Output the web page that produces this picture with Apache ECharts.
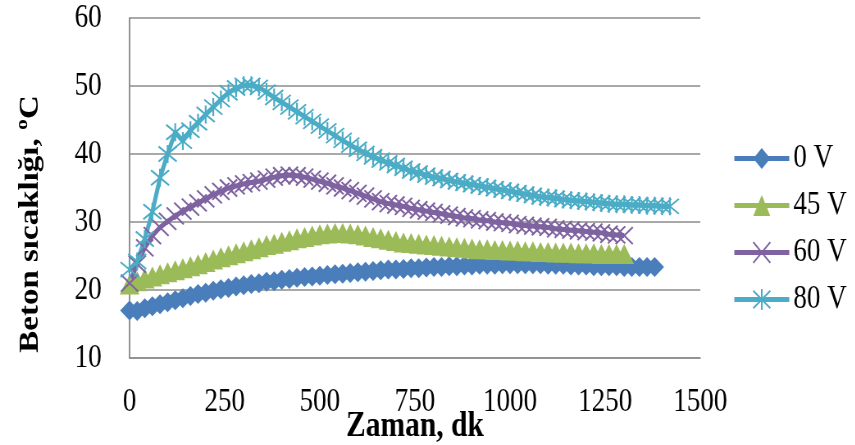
<!DOCTYPE html>
<html>
<head>
<meta charset="utf-8">
<script src="https://cdn.jsdelivr.net/npm/echarts@6/dist/echarts.min.js"></script>
<style>
  html, body { margin: 0; padding: 0; background: #ffffff; overflow: hidden; }
  #wrap { width: 855px; height: 445px; overflow: hidden; }
  /* The chart is laid out wider and then condensed horizontally */
  #chart { width: 1043px; height: 445px; transform: scaleX(0.82); transform-origin: 0 0; }
</style>
</head>
<body>
<div id="wrap"><div id="chart"></div></div>
<script>
// Measurement times (minutes)
const times = [
  0, 20, 40, 60, 80, 100, 120, 140, 160, 180,
  200, 220, 240, 260, 280, 300, 320, 340, 360, 380,
  400, 420, 440, 460, 480, 500, 520, 540, 560, 580,
  600, 620, 640, 660, 680, 700, 720, 740, 760, 780,
  800, 820, 840, 860, 880, 900, 920, 940, 960, 980,
  1000, 1020, 1040, 1060, 1080, 1100, 1120, 1140, 1160, 1180,
  1200, 1220, 1240, 1260, 1280, 1300, 1320, 1340, 1360, 1380,
  1400, 1420
];

const seriesNames = ['0 V', '45 V', '60 V', '80 V'];

// Concrete temperature, °C
const temp0V = [
  17.0, 16.9, 17.3, 17.6, 17.9, 18.2, 18.5, 18.8, 19.1, 19.4,
  19.6, 19.9, 20.1, 20.3, 20.5, 20.7, 20.9, 21.0, 21.2, 21.3,
  21.5, 21.6, 21.8, 21.9, 22.0, 22.1, 22.2, 22.3, 22.4, 22.5,
  22.6, 22.7, 22.8, 22.9, 23.0, 23.0, 23.1, 23.2, 23.2, 23.3,
  23.4, 23.4, 23.5, 23.5, 23.6, 23.6, 23.7, 23.7, 23.7, 23.8,
  23.8, 23.8, 23.8, 23.8, 23.8, 23.7, 23.7, 23.7, 23.6, 23.6,
  23.6, 23.5, 23.5, 23.5, 23.5, 23.4, 23.4, 23.4, 23.4, 23.4
];
const temp45V = [
  20.8, 21.3, 21.7, 22.0, 22.3, 22.6, 22.9, 23.2, 23.5, 23.8,
  24.1, 24.5, 24.8, 25.1, 25.4, 25.7, 26.0, 26.3, 26.6, 26.8,
  27.1, 27.3, 27.6, 27.8, 28.0, 28.2, 28.3, 28.4, 28.4, 28.3,
  28.2, 28.0, 27.8, 27.6, 27.4, 27.2, 27.0, 26.9, 26.8, 26.7,
  26.6, 26.5, 26.4, 26.3, 26.2, 26.1, 26.0, 26.0, 25.9, 25.9,
  25.8, 25.8, 25.7, 25.7, 25.6, 25.6, 25.5, 25.5, 25.5, 25.4,
  25.4, 25.4, 25.3, 25.3, 25.3, 25.3
];
const temp60V = [
  21.0, 23.8, 26.2, 28.0, 29.2, 30.1, 30.9, 31.6, 32.2, 32.8,
  33.4, 34.0, 34.5, 35.0, 35.3, 35.6, 35.8, 36.0, 36.3, 36.6,
  36.8, 36.9, 36.8, 36.6, 36.3, 36.0, 35.7, 35.3, 35.0, 34.6,
  34.2, 33.8, 33.4, 33.0, 32.7, 32.5, 32.3, 32.0, 31.8, 31.6,
  31.4, 31.2, 31.0, 30.8, 30.6, 30.5, 30.3, 30.2, 30.0, 29.9,
  29.8, 29.6, 29.5, 29.4, 29.3, 29.2, 29.0, 28.9, 28.8, 28.7,
  28.6, 28.5, 28.4, 28.2, 28.1, 28.0
];
const temp80V = [
  23.0, 24.2, 27.5, 31.5, 36.5, 40.0, 43.2, 41.9, 43.5, 44.6,
  45.8, 46.9, 48.0, 49.0, 49.7, 50.1, 50.1, 49.8, 49.1, 48.3,
  47.6, 46.9, 46.2, 45.5, 44.8, 44.1, 43.4, 42.7, 42.0, 41.3,
  40.7, 40.1, 39.6, 39.1, 38.7, 38.3, 37.9, 37.5, 37.2, 36.9,
  36.6, 36.4, 36.1, 35.9, 35.7, 35.5, 35.3, 35.1, 34.9, 34.7,
  34.5, 34.3, 34.1, 33.9, 33.7, 33.6, 33.5, 33.3, 33.2, 33.1,
  33.0, 32.9, 32.8, 32.7, 32.6, 32.6, 32.5, 32.5, 32.4, 32.4,
  32.3, 32.3
];

const xTicks = [0, 250, 500, 750, 1000, 1250, 1500];
const yTicks = [10, 20, 30, 40, 50, 60];

const colors = ['#4a7ebb', '#9bbb59', '#7f63a1', '#4bacc6'];
const serif = '"Liberation Serif", "Times New Roman", serif';

function pairs(values) {
  return values.map((v, i) => [times[i], v]);
}

// Open-stroke markers: an "x" and an asterisk
const crossPath = 'path://M0,0L20,20M20,0L0,20';
const starPath = 'path://M0,0L20,20M20,0L0,20M10,-2L10,22';

const chart = echarts.init(document.getElementById('chart'), null, { renderer: 'canvas' });

const lineBase = {
  type: 'line',
  smooth: false,
  showSymbol: true,
  showAllSymbol: true,
  animation: false,
  lineStyle: { width: 5 }
};

chart.setOption({
  animation: false,
  backgroundColor: '#ffffff',
  color: colors,
  grid: { left: 158, right: 189, top: 18, bottom: 87, containLabel: false, outerBoundsMode: 'none' },
  xAxis: {
    type: 'value',
    min: xTicks[0],
    max: xTicks[xTicks.length - 1],
    interval: xTicks[1] - xTicks[0],
    name: 'Zaman, dk',
    nameLocation: 'middle',
    nameGap: 69,
    nameMoveOverlap: false,
    nameTextStyle: { fontFamily: serif, fontWeight: 'bold', fontSize: 36, color: '#000', verticalAlign: 'middle' },
    axisLine: { show: true, lineStyle: { color: '#8c8c8c', width: 1.5 } },
    axisTick: { show: false },
    splitLine: { show: false },
    axisLabel: { margin: 28, fontFamily: serif, fontSize: 33, color: '#000', formatter: v => String(v) }
  },
  yAxis: {
    type: 'value',
    min: yTicks[0],
    max: yTicks[yTicks.length - 1],
    interval: yTicks[1] - yTicks[0],
    axisLine: { show: true, lineStyle: { color: '#8c8c8c', width: 1.9 } },
    axisTick: { show: false },
    splitLine: { show: true, lineStyle: { color: '#8c8c8c', width: 1.5 } },
    axisLabel: { margin: 34, fontFamily: serif, fontSize: 33, color: '#000', formatter: v => String(v) }
  },
  legend: {
    orient: 'vertical',
    left: 888,
    top: 137,
    itemWidth: 67,
    itemHeight: 26,
    itemGap: 14,
    lineStyle: { width: 5 },
    textStyle: { fontFamily: serif, fontSize: 33, color: '#000' },
    data: seriesNames
  },
  graphic: [{
    type: 'text',
    x: 37,
    y: 224,
    rotation: Math.PI / 2,
    style: {
      text: 'Beton sıcaklığı, ºC',
      font: 'bold 33px ' + serif,
      fill: '#000',
      textAlign: 'center',
      textVerticalAlign: 'middle'
    }
  }],
  series: [
    Object.assign({}, lineBase, {
      name: seriesNames[0],
      data: pairs(temp0V),
      symbol: 'diamond',
      symbolSize: [23, 20],
      itemStyle: { color: colors[0] }
    }),
    Object.assign({}, lineBase, {
      name: seriesNames[1],
      data: pairs(temp45V),
      symbol: 'triangle',
      symbolSize: [24, 20],
      itemStyle: { color: colors[1] }
    }),
    Object.assign({}, lineBase, {
      name: seriesNames[2],
      data: pairs(temp60V),
      symbol: crossPath,
      symbolSize: [21, 17],
      itemStyle: { color: colors[2], borderColor: colors[2], borderWidth: 2 }
    }),
    Object.assign({}, lineBase, {
      name: seriesNames[3],
      data: pairs(temp80V),
      symbol: starPath,
      symbolSize: [22, 18],
      itemStyle: { color: colors[3], borderColor: colors[3], borderWidth: 2 }
    })
  ]
});
</script>
</body>
</html>
